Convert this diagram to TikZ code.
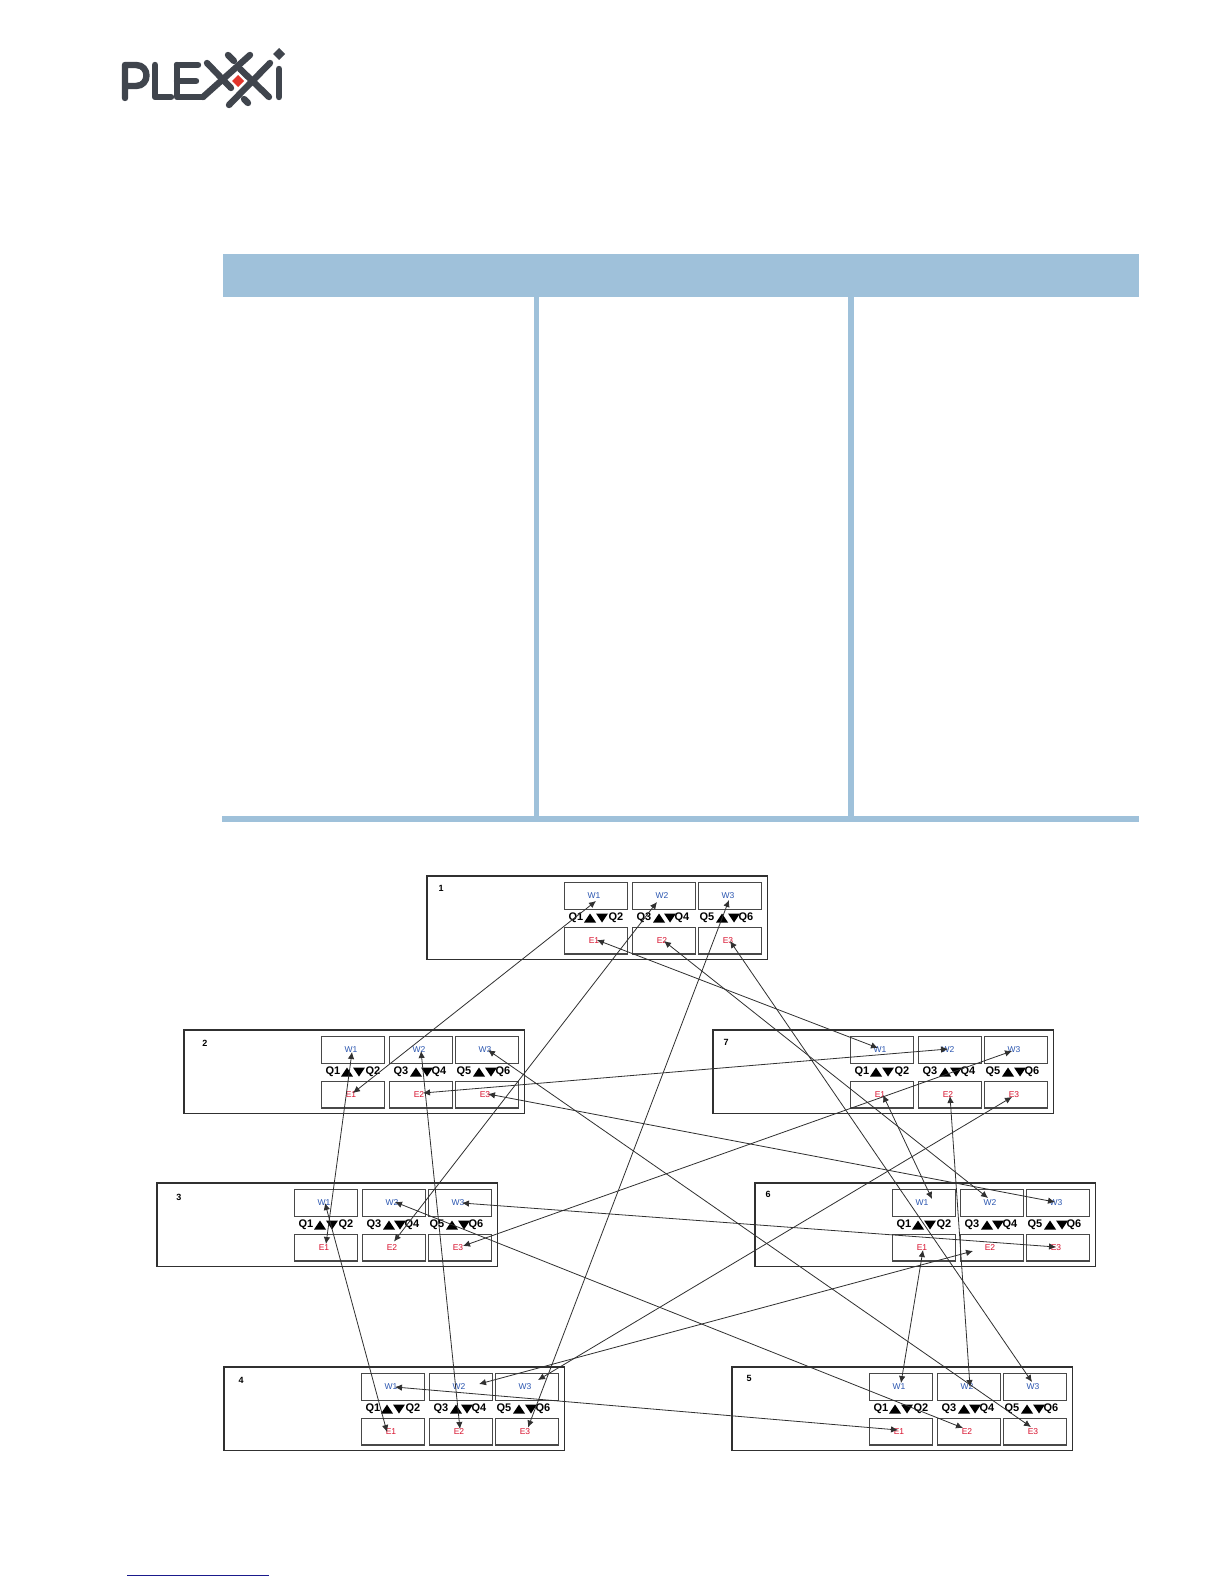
\documentclass[tikz,border=0pt]{standalone}
\usepackage{fontspec}
\setmainfont{Liberation Sans}
\usetikzlibrary{arrows.meta,calc}
\definecolor{band}{HTML}{9FC1DA}
\definecolor{logogrey}{HTML}{40454D}
\definecolor{logored}{HTML}{E2342B}
\definecolor{wblue}{HTML}{2A55B0}
\definecolor{ered}{HTML}{D8102C}
\definecolor{frame}{HTML}{303030}
\definecolor{cellframe}{HTML}{484848}
\definecolor{navy}{HTML}{1A1A8C}
\tikzset{
  x=1pt,y=-1pt,
  outerbox/.style={draw=frame,line width=1.5pt,minimum width=340.5pt,minimum height=83.5pt,inner sep=0pt,outer sep=0pt},
  cellbox/.style={draw=cellframe,line width=1.2pt,minimum width=62.6pt,minimum height=26.8pt,inner sep=0pt,outer sep=0pt,font=\fontsize{8.5}{9}\selectfont},
  wcell/.style={cellbox,text=wblue},
  ecell/.style={cellbox,text=ered},
  qlabel/.style={font=\fontsize{11}{12}\selectfont\bfseries,inner sep=0pt,text=black},
  idlabel/.style={font=\fontsize{9}{10}\selectfont\bfseries,inner sep=0pt,text=black},
  link/.style={draw=frame,line width=0.8pt,{Latex[length=7pt,width=6.5pt]}-{Latex[length=7pt,width=6.5pt]}},
  logostroke/.style={draw=logogrey,line width=6.4pt,line cap=round,line join=round},
}
\newcommand{\cellpair}[3]{% id, index, x centre
  \node[wcell] (b#1w#2) at (#3,21) {W#2\kern4pt};
  \node[ecell] (b#1e#2) at (#3,65.5) {E#2\kern4pt};
}
\newcommand{\trianglepair}[2]{% up x, down x
  \fill[black] (#1-6,47.5) -- (#1+6,47.5) -- (#1,38.5) -- cycle;
  \fill[black] (#2-6,38.5) -- (#2+6,38.5) -- (#2,47.5) -- cycle;
}
\newcommand{\switchbox}[5]{% id, X, Y, label dx, label dy
  \begin{scope}[shift={(#2,#3)}]
    \node[outerbox] (b#1) at (171,42.5) {};
    \node[idlabel] (b#1id) at (#4,#5) {#1};
    \cellpair{#1}{1}{170}
    \cellpair{#1}{2}{238}
    \cellpair{#1}{3}{304}
    \node[qlabel] (b#1q1) at (150,43) {Q1};
    \node[qlabel] (b#1q2) at (190,43) {Q2};
    \node[qlabel] (b#1q3) at (218,43) {Q3};
    \node[qlabel] (b#1q4) at (256,43) {Q4};
    \node[qlabel] (b#1q5) at (281,43) {Q5};
    \node[qlabel] (b#1q6) at (320,43) {Q6};
    \trianglepair{164}{176}
    \trianglepair{233}{244}
    \trianglepair{296}{308}
  \end{scope}
}
\newcommand{\conn}[6]{\draw[link] ($(#1.center)+(#2,#3)$) -- ($(#4.center)+(#5,#6)$);}
\begin{document}
\begin{tikzpicture}
\useasboundingbox (0,0) rectangle (1224,1584);
\fill[white] (0,0) rectangle (1224,1584);
% logo
\draw[logostroke] (125,98) -- (125,65) -- (136,65) .. controls (150,65) and (150,86) .. (136,86) -- (125,86);
\draw[logostroke] (155,65) -- (155,97) -- (171,97);
\draw[logostroke] (177,65) -- (177,97) -- (203,97);
\draw[logostroke] (177,65) -- (198,65);
\draw[logostroke] (177,81) -- (196,81);
\draw[logostroke] (203,97) -- (250,55);
\draw[logostroke] (207,63) -- (231,88);
\draw[logostroke] (228,55) -- (234,61);
\draw[logostroke] (229,105) -- (270,63);
\draw[logostroke] (240,69) -- (269,97);
\draw[logostroke] (244,99) -- (248,103);
\draw[logostroke] (279,69) -- (279,97);
\fill[logored] (238,75) -- (244,81) -- (238,87) -- (232,81) -- cycle;
\fill[logogrey] (279,48) -- (285,54) -- (279,60) -- (273,54) -- cycle;
% table
\fill[band] (223,254) rectangle (1139,297);
\fill[band] (534,297) rectangle (539,816);
\fill[band] (848,297) rectangle (854,816);
\fill[band] (222,816) rectangle (1139,822);
% switches
\switchbox{1}{426}{875}{15}{13}
\switchbox{2}{183}{1029}{22}{14}
\switchbox{3}{156}{1182}{23}{15}
\switchbox{7}{712}{1029}{14}{13}
\switchbox{6}{754}{1182}{14}{12}
\switchbox{4}{223}{1366}{18}{14}
\switchbox{5}{731}{1366}{18}{12}
% connectors
\conn{b1w1}{0}{5}{b2e1}{0}{-1.5}
\conn{b1w2}{-7}{6}{b3e2}{0}{-6}
\conn{b1w3}{-1}{4}{b4e3}{1}{-4}
\conn{b1e1}{1}{-0.5}{b7w1}{-4}{-2}
\conn{b1e2}{0}{0.5}{b6w2}{-4}{-5}
\conn{b1e3}{0}{0.5}{b5w3}{-3}{-5}
\conn{b2w1}{-1}{2}{b3e1}{0}{-3.5}
\conn{b2w2}{0}{1}{b4e2}{-1}{-2.5}
\conn{b2w3}{1}{0}{b5e3}{-4}{-4.5}
\conn{b2e2}{2}{-1.5}{b7w2}{-2}{-1}
\conn{b2e3}{1}{-0.5}{b6w3}{-3}{-1}
\conn{b3w1}{-1}{0}{b4e1}{-6}{0.5}
\conn{b3w2}{1}{-1}{b5e2}{-6}{-3.5}
\conn{b3w3}{2}{0}{b6e3}{-2}{-0.5}
\conn{b3e3}{3}{-1.5}{b7w3}{-4}{1}
\conn{b7e1}{1}{0.5}{b6w1}{8}{-4}
\conn{b7e2}{0}{1.5}{b5w2}{1}{0}
\conn{b7e3}{-4}{2.5}{b4w3}{11}{-7}
\conn{b6e1}{-1}{2.5}{b5w1}{0}{-4}
\conn{b6e2}{-19}{3.5}{b4w2}{18}{-3}
\conn{b4w1}{2}{0}{b5e1}{-3}{-1.5}
% footer rule
\draw[navy,line width=1pt] (127,1575) -- (269,1575);
\end{tikzpicture}
\end{document}
